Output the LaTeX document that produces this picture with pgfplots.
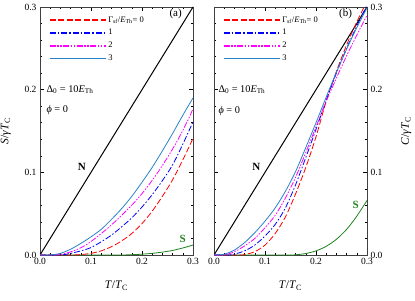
\documentclass[border=0pt]{standalone}
\usepackage{fontspec}
\setmainfont{Liberation Serif}
\usepackage{pgfplots}
\pgfplotsset{compat=1.18}
\definecolor{cteal}{RGB}{40,130,200}
\definecolor{cgreen}{RGB}{30,130,30}
\definecolor{cred}{RGB}{255,0,0}
\definecolor{cblue}{RGB}{0,0,255}
\definecolor{cmag}{RGB}{255,0,255}
\newcommand{\Th}{\textsubscript{Th}}
\tikzset{
  s0/.style={color=cred, dash pattern=on 6pt off 2.5pt},
  s1/.style={color=cblue, dash pattern=on 6pt off 2pt on 1.5pt off 2pt},
  s2/.style={color=cmag, dash pattern=on 6pt off 1.5pt on 1.5pt off 1.5pt on 1.5pt off 1.5pt},
  s3/.style={color=cteal},
}
\pgfplotsset{
  panel/.style={
    scale only axis, width=153pt, height=248pt,
    xmin=0, xmax=0.3, ymin=0, ymax=0.3,
    xtick={0,0.1,0.2,0.3}, ytick={0,0.1,0.2,0.3},
    minor x tick num=4, minor y tick num=4,
    tick align=inside, major tick length=4pt, minor tick length=2pt,
    tick style={black, line width=0.5pt},
    axis line style={line width=0.6pt, black!75},
    xtick pos=both, ytick pos=both,
    /pgf/number format/assume math mode=true,
    /pgf/number format/.cd, fixed, fixed zerofill, precision=1, /pgfplots/.cd,
    ticklabel style={font=\fontsize{9.5}{11}\selectfont},
    label style={font=\fontsize{11.5}{13}\selectfont},
    xlabel={\textit{T}/\textit{T}\textsubscript{C}},
    xlabel style={yshift=-9pt},
    legend image code/.code={\draw[#1, line width=1.4pt] (0pt,0pt) -- (56pt,0pt);},
    legend style={draw=none, fill=none, anchor=north west,
      font=\fontsize{8.5}{10}\selectfont, row sep=1.8pt, inner sep=1pt,
      cells={anchor=west}},
    every axis plot/.append style={line width=0.8pt},
  },
}
\begin{document}
\begin{tikzpicture}
\useasboundingbox (0,0) rectangle (415pt,300pt);
% ---------------- panel (a)
\begin{axis}[panel, at={(40pt,45pt)}, anchor=south west,
  ylabel={\textit{S}/\textit{γT}\textsubscript{C}},
  ylabel style={yshift=7pt},
  legend style={at={(0.05,0.975)}}]
\addplot[black, line width=1pt, forget plot] coordinates {(0,0) (0.3,0.3)};
\addplot[cgreen, smooth, forget plot] coordinates {(0,0) (0.15,0) (0.18,0.0004) (0.2,0.001) (0.22,0.002) (0.24,0.0035) (0.26,0.0055) (0.28,0.0085) (0.3,0.012)};
\addplot[s0, smooth] coordinates {(0,0) (0.06,0) (0.08,0.0005) (0.1,0.002) (0.12,0.005) (0.14,0.010) (0.16,0.017) (0.18,0.026) (0.2,0.038) (0.22,0.053) (0.24,0.071) (0.26,0.091) (0.28,0.115) (0.3,0.141)};
\addlegendentry{Γ\textsubscript{sf}/\textit{E}\Th= 0}
\addplot[s1, smooth] coordinates {(0,0) (0.04,0) (0.06,0.002) (0.08,0.005) (0.1,0.009) (0.12,0.016) (0.14,0.024) (0.16,0.034) (0.18,0.045) (0.2,0.058) (0.22,0.073) (0.24,0.090) (0.26,0.109) (0.28,0.134) (0.3,0.161)};
\addlegendentry{1}
\addplot[s2, smooth] coordinates {(0,0) (0.03,0) (0.05,0.002) (0.07,0.006) (0.09,0.012) (0.11,0.021) (0.13,0.031) (0.15,0.042) (0.17,0.054) (0.19,0.067) (0.21,0.082) (0.23,0.099) (0.25,0.118) (0.27,0.139) (0.29,0.163) (0.3,0.177)};
\addlegendentry{2}
\addplot[s3, smooth] coordinates {(0,0) (0.02,0) (0.04,0.002) (0.06,0.007) (0.08,0.014) (0.1,0.022) (0.12,0.031) (0.14,0.043) (0.16,0.056) (0.18,0.071) (0.2,0.088) (0.22,0.106) (0.24,0.126) (0.26,0.147) (0.28,0.169) (0.3,0.190)};
\addlegendentry{3}
\node[font=\fontsize{11}{13}\selectfont\bfseries] at (axis cs:0.082,0.107) {N};
\node[font=\fontsize{11}{13}\selectfont\bfseries, text=cgreen] at (axis cs:0.28,0.019) {S};
\node[font=\fontsize{11}{13}\selectfont] at (axis cs:0.266,0.2915) {(a)};
\node[font=\fontsize{10.3}{12}\selectfont, anchor=west] at (axis cs:0.006,0.2) {Δ\textsubscript{0} = 10\textit{E}\Th};
\node[font=\fontsize{10.3}{12}\selectfont, anchor=west] at (axis cs:0.006,0.175) {\textit{ϕ} = 0};
\end{axis}
% ---------------- panel (b)
\begin{axis}[panel, at={(214pt,45pt)}, anchor=south west,
  yticklabel pos=right,
  ylabel={\textit{C}/\textit{γT}\textsubscript{C}},
  ylabel style={yshift=-12pt},
  legend style={at={(0.05,0.975)}}]
\addplot[black, line width=1pt, forget plot] coordinates {(0,0) (0.3,0.3)};
\addplot[cgreen, smooth, forget plot] coordinates {(0,0) (0.14,0) (0.16,0.0003) (0.18,0.0018) (0.2,0.005) (0.22,0.0105) (0.24,0.019) (0.26,0.031) (0.28,0.047) (0.3,0.066)};
\addplot[s0, smooth] coordinates {(0,0) (0.05,0) (0.06,0.0005) (0.08,0.004) (0.1,0.012) (0.12,0.026) (0.14,0.046) (0.16,0.074) (0.18,0.106) (0.2,0.143) (0.22,0.186) (0.24,0.222) (0.26,0.254) (0.28,0.282) (0.3,0.307)};
\addlegendentry{Γ\textsubscript{sf}/\textit{E}\Th= 0}
\addplot[s1, smooth] coordinates {(0,0) (0.03,0) (0.04,0.001) (0.06,0.005) (0.08,0.012) (0.1,0.023) (0.12,0.037) (0.14,0.057) (0.16,0.085) (0.18,0.118) (0.2,0.152) (0.22,0.187) (0.24,0.220) (0.26,0.250) (0.28,0.277) (0.3,0.302)};
\addlegendentry{1}
\addplot[s2, smooth] coordinates {(0,0) (0.02,0) (0.04,0.004) (0.06,0.011) (0.08,0.020) (0.1,0.033) (0.12,0.048) (0.14,0.069) (0.16,0.094) (0.18,0.124) (0.2,0.155) (0.22,0.186) (0.24,0.214) (0.26,0.241) (0.28,0.266) (0.3,0.290)};
\addlegendentry{2}
\addplot[s3, smooth] coordinates {(0,0) (0.02,0.001) (0.04,0.006) (0.06,0.015) (0.08,0.027) (0.1,0.041) (0.12,0.057) (0.14,0.077) (0.16,0.101) (0.18,0.130) (0.2,0.160) (0.22,0.191) (0.24,0.221) (0.26,0.249) (0.28,0.275) (0.3,0.299)};
\addlegendentry{3}
\node[font=\fontsize{11}{13}\selectfont\bfseries] at (axis cs:0.083,0.107) {N};
\node[font=\fontsize{11}{13}\selectfont\bfseries, text=cgreen] at (axis cs:0.278,0.060) {S};
\node[font=\fontsize{11}{13}\selectfont] at (axis cs:0.258,0.2915) {(b)};
\node[font=\fontsize{10.3}{12}\selectfont, anchor=west] at (axis cs:0.002,0.2) {Δ\textsubscript{0} = 10\textit{E}\Th};
\node[font=\fontsize{10.3}{12}\selectfont, anchor=west] at (axis cs:0.002,0.174) {\textit{ϕ} = 0};
\end{axis}
\end{tikzpicture}
\end{document}
